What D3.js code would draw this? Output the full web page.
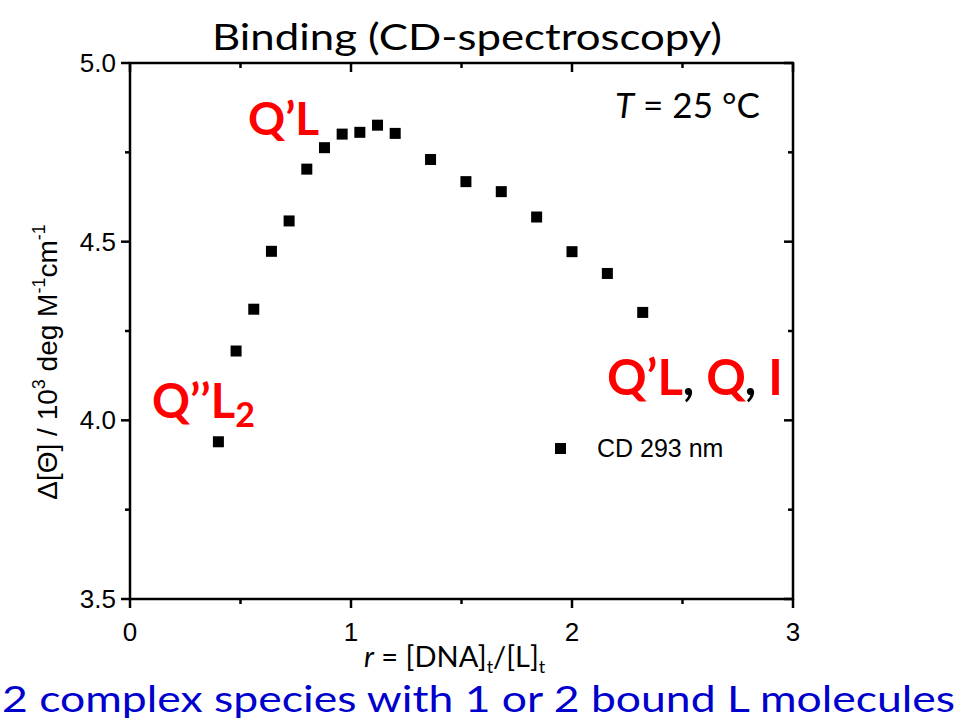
<!DOCTYPE html>
<html lang="en">
<head>
<meta charset="UTF-8">
<script src="https://d3js.org/d3.v7.min.js"></script>
<style>
  body { margin: 0; background: #fff; }
  svg text { font-family: "Liberation Sans", Arial, sans-serif; }
  .cal { font-family: Lato, "Open Sans", sans-serif; }
</style>
</head>
<body>
<div id="chart_area"></div>
<script>
// CD 293 nm titration data
var ratio = [0.40, 0.48, 0.56, 0.64, 0.72, 0.80, 0.88, 0.96, 1.04, 1.12, 1.20,
             1.36, 1.52, 1.68, 1.84, 2.00, 2.16, 2.32];
var deltaTheta = [3.94, 4.194, 4.311, 4.473, 4.558, 4.703, 4.763, 4.801, 4.806, 4.826, 4.803,
                  4.730, 4.668, 4.640, 4.569, 4.472, 4.411, 4.302];
var xTicks = [0, 1, 2, 3];
var xMinor = [0.5, 1.5, 2.5];
var yTicks = [3.5, 4.0, 4.5, 5.0];
var yMinor = [3.75, 4.25, 4.75];

var W = 961, H = 723;
var margin = { top: 63, right: 168, bottom: 124, left: 130 };
var width = W - margin.left - margin.right,
    height = H - margin.top - margin.bottom;

var svg = d3.select("#chart_area").append("svg")
  .attr("width", W).attr("height", H);

var g = svg.append("g")
  .attr("transform", "translate(" + margin.left + "," + margin.top + ")");

var x = d3.scaleLinear().domain([0, 3]).range([0, width]);
var y = d3.scaleLinear().domain([3.5, 5.0]).range([height, 0]);

// frame
g.append("rect")
  .attr("width", width).attr("height", height)
  .attr("fill", "none").attr("stroke", "#000").attr("stroke-width", 2.5);

function hTicks(sel, data, len) {
  sel.selectAll(null).data(data).enter().append("line")
    .attr("x1", d => x(d)).attr("x2", d => x(d)).attr("y1", 0).attr("y2", len)
    .attr("stroke", "#000").attr("stroke-width", 2.5);
}
function vTicks(sel, data, len) {
  sel.selectAll(null).data(data).enter().append("line")
    .attr("x1", -len).attr("x2", 0).attr("y1", d => y(d)).attr("y2", d => y(d))
    .attr("stroke", "#000").attr("stroke-width", 2.5);
}

// bottom axis: outward ticks
var bottomAx = g.append("g").attr("transform", "translate(0," + height + ")");
hTicks(bottomAx, xTicks, 9);
hTicks(bottomAx, xMinor, 5);
bottomAx.selectAll("text").data(xTicks).enter().append("text")
  .attr("x", d => x(d)).attr("y", 42)
  .attr("text-anchor", "middle").style("font-size", "26px")
  .text(d => d);

// top axis: inward ticks
var topAx = g.append("g");
hTicks(topAx, xTicks, 9);
hTicks(topAx, xMinor, 5);

// left axis: outward ticks
var leftAx = g.append("g");
vTicks(leftAx, yTicks, 9);
vTicks(leftAx, yMinor, 5);
leftAx.selectAll("text").data(yTicks).enter().append("text")
  .attr("x", -14).attr("y", d => y(d) + 9)
  .attr("text-anchor", "end").style("font-size", "26px")
  .text(d => d.toFixed(1));

// right axis: inward ticks
var rightAx = g.append("g").attr("transform", "translate(" + width + ",0)");
vTicks(rightAx, yTicks, 9);
vTicks(rightAx, yMinor, 5);

// points
var s = 11;
g.append("g").selectAll("rect").data(ratio).enter().append("rect")
  .attr("x", d => x(d) - s / 2)
  .attr("y", (d, i) => y(deltaTheta[i]) - s / 2)
  .attr("width", s).attr("height", s)
  .attr("fill", "#000");

// legend
g.append("rect").attr("x", 425).attr("y", 380).attr("width", 11).attr("height", 11).attr("fill", "#000");
g.append("text").attr("x", 467).attr("y", 394).style("font-size", "25px").text("CD 293 nm");

// y label
var yl = svg.append("text")
  .attr("transform", "translate(57,362) rotate(-90)")
  .attr("text-anchor", "middle").style("font-size", "28px");
yl.append("tspan").text("\u0394[\u0398] / 10");
yl.append("tspan").attr("dy", -12).style("font-size", "18px").text("3");
yl.append("tspan").attr("dy", 12).text(" deg M");
yl.append("tspan").attr("dy", -12).style("font-size", "18px").text("-1");
yl.append("tspan").attr("dy", 12).text("cm");
yl.append("tspan").attr("dy", -12).style("font-size", "18px").text("-1");

// x label
var xl = svg.append("text").attr("class", "cal")
  .attr("x", 364).attr("y", 667).style("font-size", "29px");
xl.append("tspan").style("font-style", "italic").text("r");
xl.append("tspan").text(" = [DNA]");
xl.append("tspan").attr("dy", 6).style("font-size", "18px").text("t");
xl.append("tspan").attr("dy", -6).text("/[L]");
xl.append("tspan").attr("dy", 6).style("font-size", "18px").text("t");

// title
svg.append("text").attr("class", "cal")
  .attr("x", 467).attr("y", 50).attr("text-anchor", "middle")
  .style("font-size", "36px")
  .attr("textLength", 510).attr("lengthAdjust", "spacingAndGlyphs")
  .text("Binding (CD-spectroscopy)");

// temperature
var tt = svg.append("text").attr("class", "cal")
  .attr("x", 615).attr("y", 118).style("font-size", "35px");
tt.append("tspan").style("font-style", "italic").text("T");
tt.append("tspan").text(" = 25 \u00B0C");

// red species labels
svg.append("text").attr("class", "cal")
  .attr("x", 248).attr("y", 135).attr("fill", "#ff0000")
  .style("font-size", "46px").style("font-weight", "bold").text("Q\u2019L");

var q2 = svg.append("text").attr("class", "cal")
  .attr("x", 152).attr("y", 418).attr("fill", "#ff0000")
  .style("font-size", "47px").style("font-weight", "bold");
q2.append("tspan").text("Q\u2019\u2019L");
q2.append("tspan").attr("dy", 9).style("font-size", "34px").text("2");

var q3 = svg.append("text").attr("class", "cal")
  .attr("x", 607).attr("y", 395)
  .style("font-size", "49px").style("font-weight", "bold");
q3.append("tspan").attr("fill", "#ff0000").text("Q\u2019L");
q3.append("tspan").attr("fill", "#000").text(", ");
q3.append("tspan").attr("fill", "#ff0000").text("Q");
q3.append("tspan").attr("fill", "#000").text(", ");
q3.append("tspan").attr("fill", "#ff0000").text("I");

// bottom caption
svg.append("text").attr("class", "cal")
  .attr("x", 2).attr("y", 712).attr("fill", "#0000cc")
  .style("font-size", "37px")
  .attr("textLength", 953).attr("lengthAdjust", "spacingAndGlyphs")
  .text("2 complex species with 1 or 2 bound L molecules");
</script>
</body>
</html>
